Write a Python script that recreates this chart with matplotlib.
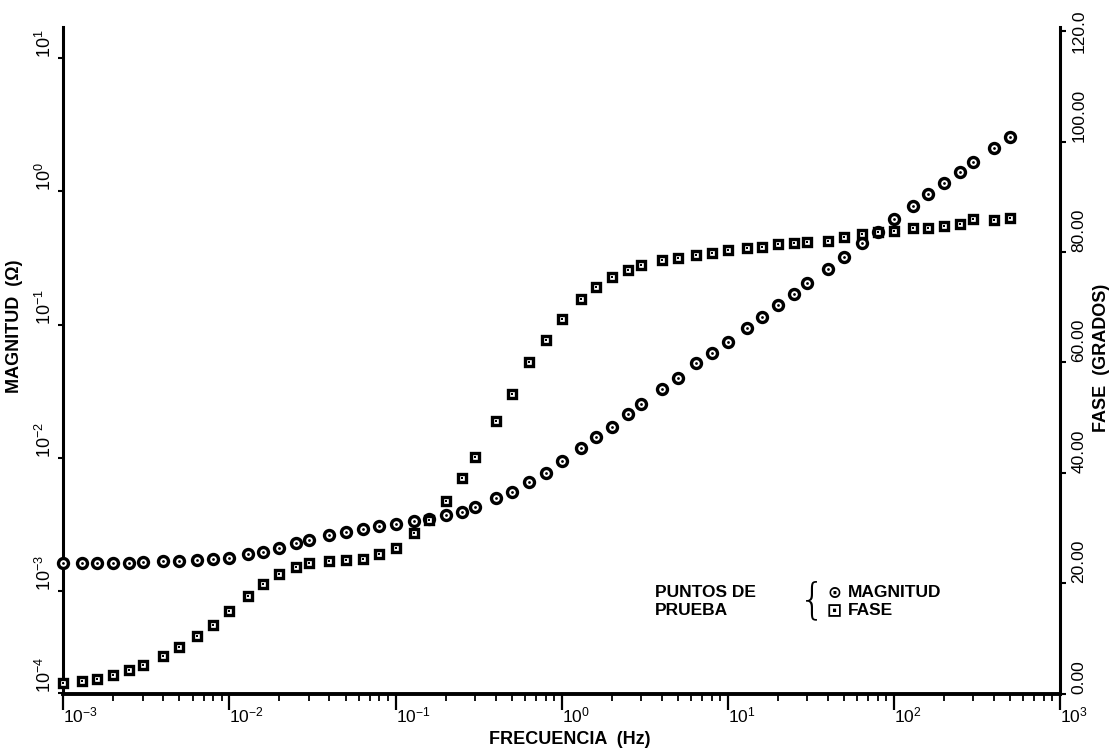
import numpy as np
import matplotlib
matplotlib.use("Agg")
import matplotlib.pyplot as plt
from matplotlib.ticker import FixedLocator, NullLocator

plt.rcParams['font.family'] = ['Liberation Sans', 'DejaVu Sans']
plt.rcParams['mathtext.default'] = 'regular'

# puntos de prueba (frecuencia en Hz)
frecuencia = [1e-3, 1.3e-3, 1.6e-3, 2e-3, 2.5e-3, 3e-3, 4e-3, 5e-3, 6.4e-3, 8e-3,
              1e-2, 1.3e-2, 1.6e-2, 2e-2, 2.5e-2, 3e-2, 4e-2, 5e-2, 6.4e-2, 8e-2,
              0.1, 0.13, 0.16, 0.2, 0.25, 0.3, 0.4, 0.5, 0.64, 0.8,
              1, 1.3, 1.6, 2, 2.5, 3, 4, 5, 6.4, 8,
              10, 13, 16, 20, 25, 30, 40, 50, 64, 80,
              100, 130, 160, 200, 250, 300, 400, 500]

# magnitud en ohm
magnitud = [1.63e-3, 1.63e-3, 1.63e-3, 1.63e-3, 1.63e-3, 1.66e-3, 1.67e-3, 1.68e-3, 1.71e-3, 1.74e-3,
            1.78e-3, 1.88e-3, 1.96e-3, 2.11e-3, 2.28e-3, 2.41e-3, 2.63e-3, 2.79e-3, 2.94e-3, 3.08e-3,
            3.17e-3, 3.35e-3, 3.45e-3, 3.72e-3, 3.94e-3, 4.30e-3, 5.02e-3, 5.57e-3, 6.61e-3, 7.73e-3,
            9.46e-3, 1.18e-2, 1.43e-2, 1.71e-2, 2.12e-2, 2.54e-2, 3.27e-2, 3.99e-2, 5.12e-2, 6.09e-2,
            7.44e-2, 9.48e-2, 0.1135, 0.140, 0.170, 0.204, 0.263, 0.323, 0.407, 0.495,
            0.617, 0.777, 0.955, 1.16, 1.41, 1.67, 2.13, 2.56]

# fase en grados
fase = [1.9, 2.2, 2.6, 3.4, 4.3, 5.1, 6.8, 8.5, 10.5, 12.5,
        15.0, 17.6, 19.9, 21.6, 22.9, 23.6, 24.1, 24.2, 24.4, 25.3,
        26.4, 29.0, 31.5, 34.8, 39.0, 42.8, 49.3, 54.3, 60.0, 64.0,
        67.8, 71.5, 73.6, 75.4, 76.8, 77.6, 78.6, 79.0, 79.5, 79.8,
        80.3, 80.7, 81.0, 81.5, 81.7, 81.8, 82.1, 82.7, 83.3, 83.7,
        83.9, 84.3, 84.4, 84.7, 85.1, 86.0, 85.8, 86.1]

x_ticks = [1e-3, 1e-2, 1e-1, 1e0, 1e1, 1e2, 1e3]
x_labels = ['$10^{-3}$', '$10^{-2}$', '$10^{-1}$', '$10^{0}$', '$10^{1}$', '$10^{2}$', '$10^{3}$']
mag_ticks = [1e-4, 1e-3, 1e-2, 1e-1, 1e0, 1e1]
mag_labels = ['$10^{-4}$', '$10^{-3}$', '$10^{-2}$', '$10^{-1}$', '$10^{0}$', '$10^{1}$']
fase_ticks = [0, 20, 40, 60, 80, 100, 120]
fase_labels = ['0.00', '20.00', '40.00', '60.00', '80.00', '100.00', '120.0']

# the decade below 1e-3 is drawn shorter than the others on the magnitude axis
SQUEEZE = 0.77


def fwd(v):
    lg = np.log10(np.clip(v, 1e-30, None))
    return np.where(lg < -3, -3 + (lg + 3) * SQUEEZE, lg)


def inv(u):
    return np.where(u < -3, 10.0 ** (-3 + (u + 3) / SQUEEZE), 10.0 ** u)


W, H = 1113, 753


def px(x, y):
    return x / W, 1 - y / H


fig = plt.figure(figsize=(W / 100, H / 100), dpi=100)
ax = fig.add_axes([63.3 / W, 1 - 693.5 / H, (1060 - 63.3) / W, (693.5 - 27) / H])
ax2 = ax.twinx()

ax.set_xscale('log')
ax.set_xlim(1e-3, 1e3)
ax.set_yscale('function', functions=(fwd, inv))
ax.set_ylim(1e-4, 10 ** 1.235)
ax2.set_ylim(0, 120.8)

# magnitud: open circle with a dot
ax.plot(frecuencia, magnitud, ls='none', marker='o', ms=7.2, mfc='white',
        mec='black', mew=2.4, clip_on=False, zorder=3)
ax.plot(frecuencia, magnitud, ls='none', marker='o', ms=2.0, mfc='black',
        mec='black', mew=0, clip_on=False, zorder=4)
# fase: open square with a dot
ax2.plot(frecuencia, fase, ls='none', marker='s', ms=6.4, mfc='white',
         mec='black', mew=2.4, clip_on=False, zorder=3)
ax2.plot(frecuencia, fase, ls='none', marker='s', ms=2.0, mfc='black',
         mec='black', mew=0, clip_on=False, zorder=4)

for s in ['top', 'right']:
    ax.spines[s].set_visible(False)
for s in ['top', 'left', 'bottom']:
    ax2.spines[s].set_visible(False)
ax.spines['left'].set_linewidth(2.2)
ax.spines['bottom'].set_linewidth(2.8)
ax2.spines['right'].set_linewidth(2.2)

# x axis
ax.xaxis.set_major_locator(FixedLocator(x_ticks))
ax.xaxis.set_minor_locator(FixedLocator(
    [m * d for d in [1e-3, 1e-2, 1e-1, 1e0, 1e1, 1e2] for m in range(2, 10)]))
ax.set_xticks(x_ticks, x_labels, ha='left', va='top')
ax.tick_params(axis='x', which='major', direction='out', length=11.5, width=1.6,
               pad=-3, labelsize=12.5)
ax.tick_params(axis='x', which='minor', direction='out', length=5, width=1.3)

# left axis (magnitud)
ax.yaxis.set_minor_locator(NullLocator())
ax.set_yticks(mag_ticks, mag_labels, rotation=90, rotation_mode='anchor',
              ha='left', va='center')
ax.tick_params(axis='y', direction='out', length=3.5, width=1.5, pad=9.5, labelsize=13)

# right axis (fase)
ax2.set_yticks(fase_ticks, fase_labels, rotation=90, rotation_mode='anchor',
               ha='left', va='center')
ax2.tick_params(axis='y', direction='out', length=4.5, width=1.5, pad=9, labelsize=12.5)
# top label would run off the figure, centre it on its tick
ax2.get_yticklabels()[-1].set_ha('center')

# axis titles
fig.text(*px(15, 326), 'MAGNITUD  (\u03a9)', rotation=90, ha='center', va='center',
         fontsize=13, fontweight='bold')
fig.text(*px(1102, 358), 'FASE  (GRADOS)', rotation=90, ha='center', va='center',
         fontsize=13, fontweight='bold')
fig.text(*px(570, 740), 'FRECUENCIA  (Hz)', ha='center', va='center',
         fontsize=13, fontweight='bold')

# key
fig.text(*px(655, 597), 'PUNTOS DE', ha='left', va='baseline', fontsize=12.5, fontweight='bold')
fig.text(*px(655, 615), 'PRUEBA', ha='left', va='baseline', fontsize=12.5, fontweight='bold')
fig.text(*px(812, 601), '{', ha='center', va='center', fontsize=30,
         family=['DejaVu Sans'], fontweight='light')
fig.text(*px(834, 593), '\u2299', ha='center', va='center', fontsize=12,
         family=['DejaVu Sans'], fontweight='bold')
fig.text(*px(834, 611), '\u22a1', ha='center', va='center', fontsize=13,
         family=['DejaVu Sans'], fontweight='bold')
fig.text(*px(848, 597), 'MAGNITUD', ha='left', va='baseline', fontsize=12.5, fontweight='bold')
fig.text(*px(848, 615), 'FASE', ha='left', va='baseline', fontsize=12.5, fontweight='bold')

fig.savefig('out.png', dpi=100)
